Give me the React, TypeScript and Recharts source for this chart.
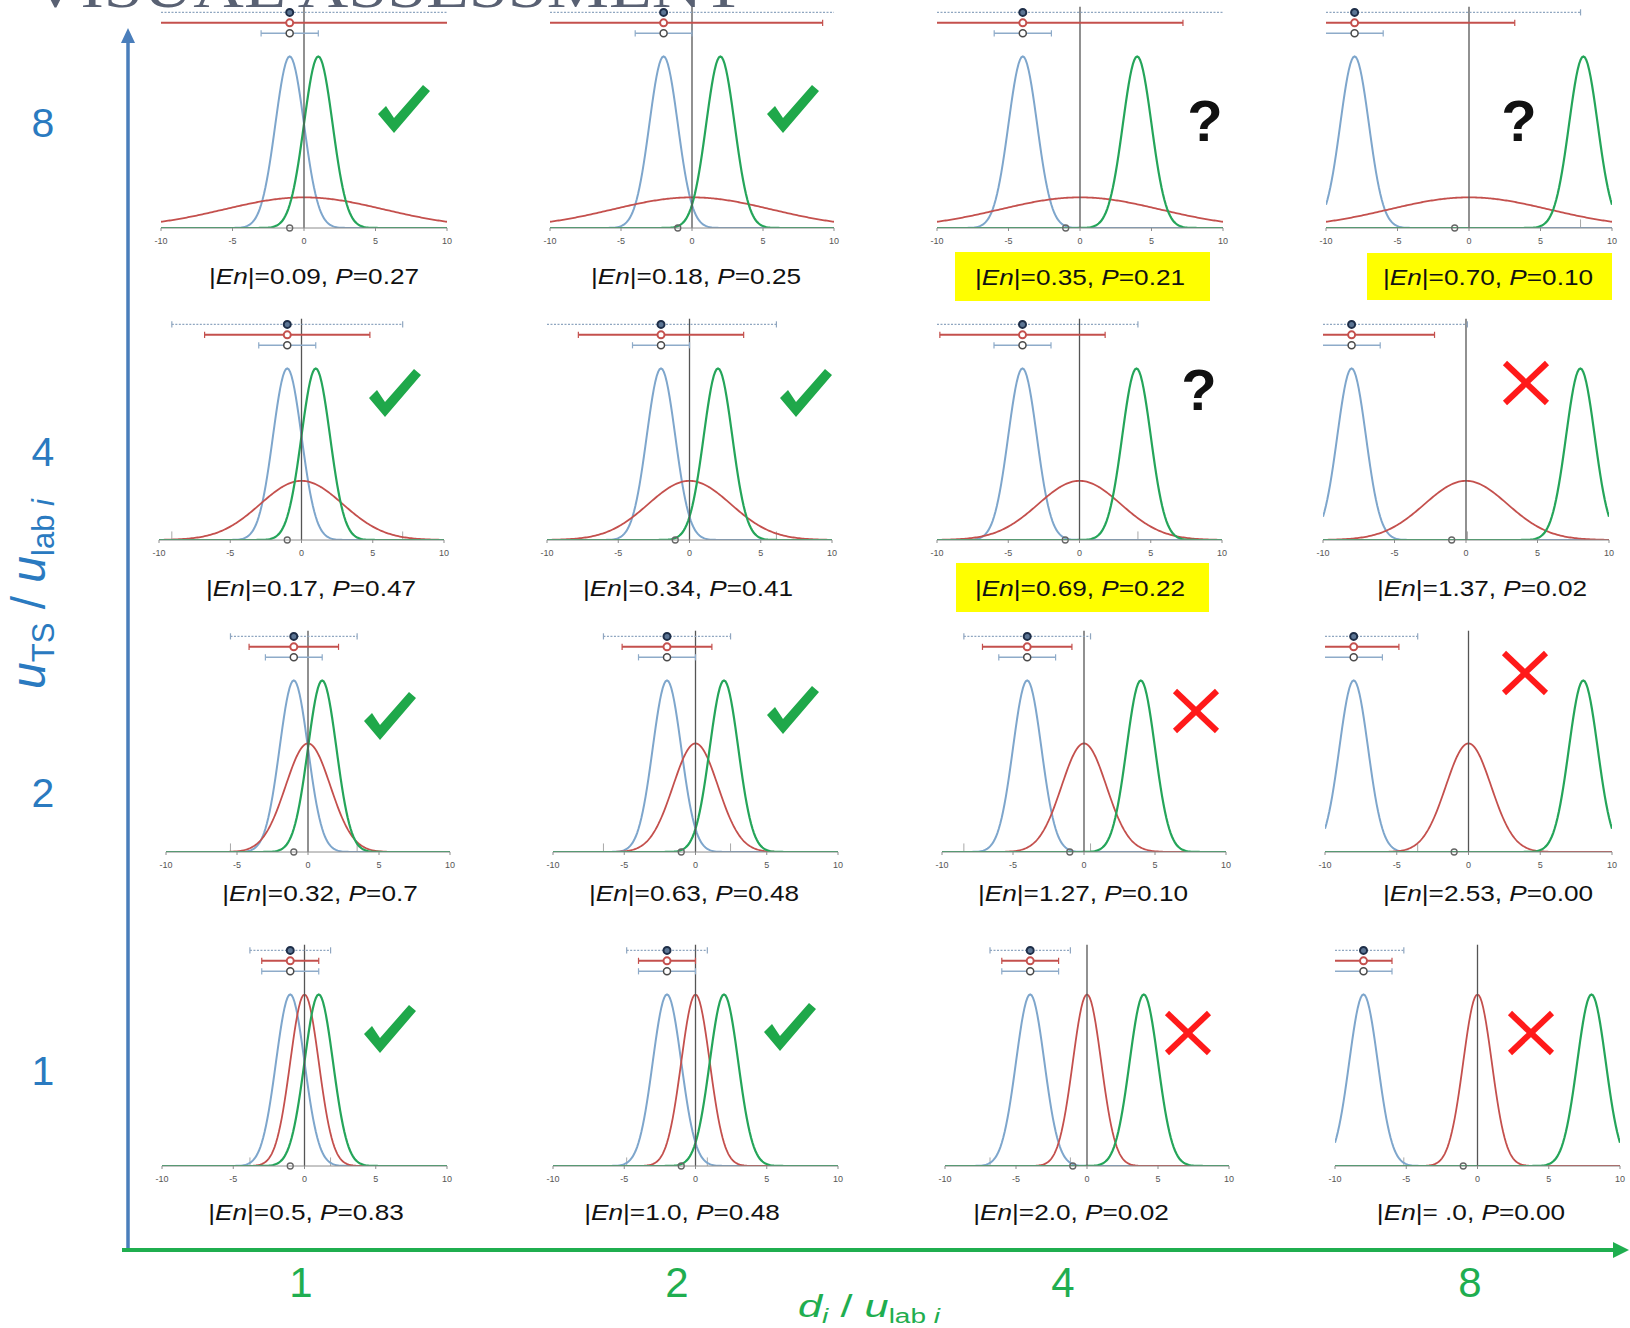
import React from 'react';
import { LineChart, Line, XAxis, YAxis, ReferenceLine, ReferenceDot } from 'recharts';

// ---- data ----
// d_i / u_lab i for each column: lab curve centred at -d, comparison curve at +d
const COL_RATIOS = [1, 2, 4, 8];
// u_TS / u_lab i for each row
const ROW_RATIOS = [8, 4, 2, 1];
const LAB_SIGMA = 1.0;
// spread of the red reference-value curve, per row
const RED_SIGMA = [5.6, 2.9, 1.58, 1.0];
// half-widths of the three interval bars, per row
const TS_BAR_HALF = [15.8, 8.1, 4.46, 2.83];
const RED_BAR_HALF = [11.2, 5.8, 3.15, 2.0];
const LAB_BAR_HALF = 2.0;
const BASE_MARK_X = -1;
const X_TICKS = [-10, -5, 0, 5, 10];

const EN_VALUES = [
  ['0.09', '0.18', '0.35', '0.70'],
  ['0.17', '0.34', '0.69', '1.37'],
  ['0.32', '0.63', '1.27', '2.53'],
  ['0.5', '1.0', '2.0', ' .0'],
];
const P_VALUES = [
  ['0.27', '0.25', '0.21', '0.10'],
  ['0.47', '0.41', '0.22', '0.02'],
  ['0.7', '0.48', '0.10', '0.00'],
  ['0.83', '0.48', '0.02', '0.00'],
];
const VERDICTS = [
  ['ok', 'ok', '?', '?'],
  ['ok', 'ok', '?', 'x'],
  ['ok', 'ok', 'x', 'x'],
  ['ok', 'ok', 'x', 'x'],
];
const HIGHLIGHT = [
  [false, false, true, true],
  [false, false, true, false],
  [false, false, false, false],
  [false, false, false, false],
];

// ---- layout ----
const AXIS_SPAN = [
  [[161, 447], [550, 834], [937, 1223], [1326, 1612]],
  [[159, 444], [547, 832], [937, 1222], [1323, 1609]],
  [[166, 450], [553, 838], [942, 1226], [1325, 1612]],
  [[162, 447], [553, 838], [945, 1229], [1335, 1620]],
];
const BASELINES = [228, 540, 852, 1166];
const LABEL_POS = [
  [[314, 276], [696, 276], [1080, 277], [1488, 277]],
  [[311, 588], [688, 588], [1080, 588], [1482, 588]],
  [[320, 893], [694, 893], [1083, 893], [1488, 893]],
  [[306, 1212], [682, 1212], [1071, 1212], [1471, 1212]],
];
const MARK_POS = [
  [[378, 85], [767, 85], [1188, 99], [1502, 99]],
  [[369, 369], [780, 369], [1182, 368], [1505, 363]],
  [[364, 692], [767, 686], [1175, 691], [1504, 653]],
  [[364, 1005], [764, 1003], [1167, 1013], [1510, 1013]],
];
const BOX_SIZE: Record<string, number[]> = {
  '0-2': [955, 252, 255, 49],
  '0-3': [1367, 253, 245, 47],
  '1-2': [956, 563, 253, 49],
};

const PLOT_H = 223;
const Y_MAX = 1.3;
const Y_TS = 1.257;
const Y_RED = 1.196;
const Y_LAB = 1.135;
const ZERO_TOP = 1.29;

const BLUE = '#7ea6cc';
const GREEN = '#25a55a';
const RED = '#c4504d';

const SAMPLE_X = Array.from({ length: 201 }, (_, i) => Math.round((-10 + i * 0.1) * 10) / 10);

const density = (x: number, mu: number, s: number) =>
  Math.exp(-((x - mu) * (x - mu)) / (2 * s * s)) / s;

const clamp = (v: number) => Math.max(-10, Math.min(10, v));
const inside = (v: number) => v > -10 && v < 10;

function IntervalBar({ c, y, half, stroke, width, dash }: any) {
  const a = -c - half;
  const b = -c + half;
  const capH = 0.018;
  const items = [
    <ReferenceLine
      key="bar"
      segment={[{ x: clamp(a), y }, { x: clamp(b), y }]}
      stroke={stroke}
      strokeWidth={width}
      strokeDasharray={dash}
      ifOverflow="visible"
    />,
  ];
  [a, b].forEach((e, i) => {
    if (inside(e)) {
      items.push(
        <ReferenceLine
          key={'cap' + i}
          segment={[{ x: e, y: y - capH }, { x: e, y: y + capH }]}
          stroke={stroke}
          strokeWidth={1.2}
          ifOverflow="visible"
        />
      );
    }
  });
  return items;
}

function Panel({ row, col }: { row: number; col: number }) {
  const [L, R] = AXIS_SPAN[row][col];
  const base = BASELINES[row];
  const c = COL_RATIOS[col];
  const rs = RED_SIGMA[row];
  const ML = 12;
  const MR = 12;
  const MT = 5;
  const XH = 30;
  const data = SAMPLE_X.map((x) => ({
    x,
    blue: density(x, -c, LAB_SIGMA),
    red: density(x, 0, rs),
    green: density(x, c, LAB_SIGMA),
  }));
  const tsEnds = [-c - TS_BAR_HALF[row], -c + TS_BAR_HALF[row]].filter(inside);

  return (
    <div style={{ position: 'absolute', left: L - ML, top: base - PLOT_H - MT }}>
      <LineChart
        width={R - L + ML + MR}
        height={MT + PLOT_H + XH}
        data={data}
        margin={{ top: MT, right: MR, left: ML, bottom: 0 }}
      >
        <XAxis
          dataKey="x"
          type="number"
          domain={[-10, 10]}
          ticks={X_TICKS}
          interval={0}
          allowDataOverflow
          height={XH}
          stroke="#8c8c8c"
          tickSize={3}
          tickMargin={7}
          tick={{ fontSize: 9, fill: '#555', fontFamily: 'Liberation Sans, Arial, sans-serif' }}
        />
        <YAxis hide type="number" domain={[0, Y_MAX]} allowDataOverflow width={0} />
        {tsEnds.map((e, i) => (
          <ReferenceLine
            key={'tsmark' + i}
            segment={[{ x: e, y: 0 }, { x: e, y: 0.05 }]}
            stroke="#a8a8a8"
            strokeWidth={1}
          />
        ))}
        <Line dataKey="blue" type="linear" stroke={BLUE} strokeWidth={2} dot={false} isAnimationActive={false} />
        <Line dataKey="red" type="linear" stroke={RED} strokeWidth={1.8} dot={false} isAnimationActive={false} />
        <Line dataKey="green" type="linear" stroke={GREEN} strokeWidth={2.2} dot={false} isAnimationActive={false} />
        <ReferenceLine
          segment={[{ x: 0, y: 0 }, { x: 0, y: ZERO_TOP }]}
          stroke="#555"
          strokeWidth={1.3}
        />
        {IntervalBar({ c, y: Y_TS, half: TS_BAR_HALF[row], stroke: '#8fa6c0', width: 1.3, dash: '2 1.5' })}
        {IntervalBar({ c, y: Y_RED, half: RED_BAR_HALF[row], stroke: RED, width: 2 })}
        {IntervalBar({ c, y: Y_LAB, half: LAB_BAR_HALF, stroke: '#8eabc9', width: 1.5 })}
        <ReferenceDot x={-c} y={Y_TS} r={3.5} fill="#5c7594" stroke="#1e2e48" strokeWidth={2} />
        <ReferenceDot x={-c} y={Y_RED} r={3.5} fill="#fff" stroke={RED} strokeWidth={2} />
        <ReferenceDot x={-c} y={Y_LAB} r={3.5} fill="#fff" stroke="#4a4a4a" strokeWidth={1.5} />
        <ReferenceDot x={BASE_MARK_X} y={0} r={3} fill="none" stroke="#666" strokeWidth={1.3} />
      </LineChart>
    </div>
  );
}

function Verdict({ kind, x, y }: { kind: string; x: number; y: number }) {
  if (kind === 'ok') {
    return (
      <polygon
        transform={`translate(${x},${y})`}
        points="0,29 8,21 16,33 45,0 52,6 16,48"
        fill="#1fa84a"
      />
    );
  }
  if (kind === '?') {
    return (
      <text
        x={x + 17}
        y={y + 42}
        textAnchor="middle"
        fontFamily="Liberation Sans, Arial, sans-serif"
        fontWeight="bold"
        fontSize={58}
        fill="#111"
      >
        ?
      </text>
    );
  }
  return (
    <g stroke="#ff1a1a" strokeWidth={6}>
      <line x1={x} y1={y} x2={x + 42} y2={y + 40} />
      <line x1={x + 42} y1={y} x2={x} y2={y + 40} />
    </g>
  );
}

const SANS = 'Liberation Sans, Arial, sans-serif';

export default function App() {
  const cells: [number, number][] = [];
  ROW_RATIOS.forEach((_, r) => COL_RATIOS.forEach((__, c) => cells.push([r, c])));

  return (
    <div
      style={{
        position: 'absolute',
        left: 0,
        top: 0,
        width: 1630,
        height: 1328,
        background: '#fff',
        overflow: 'hidden',
      }}
    >
      <svg width={1630} height={1328} style={{ position: 'absolute', left: 0, top: 0 }}>
        {/* title */}
        <text
          x={30}
          y={7}
          fontFamily="Liberation Serif, Times New Roman, serif"
          fontSize={56}
          fill="#596173"
          textLength={715}
          lengthAdjust="spacingAndGlyphs"
        >
          VISUAL ASSESSMENT
        </text>

        {/* yellow highlight boxes */}
        {cells
          .filter(([r, c]) => HIGHLIGHT[r][c])
          .map(([r, c]) => {
            const [x, y, w, h] = BOX_SIZE[`${r}-${c}`];
            return <rect key={`box${r}-${c}`} x={x} y={y} width={w} height={h} fill="#ffff00" />;
          })}

        {/* vertical axis arrow */}
        <line x1={128} y1={1252} x2={128} y2={40} stroke="#4a7ebb" strokeWidth={3.5} />
        <polygon points="121,43 135,43 128,28" fill="#4a7ebb" />
        {/* horizontal axis arrow */}
        <line x1={122} y1={1250} x2={1616} y2={1250} stroke="#1fae4f" strokeWidth={4} />
        <polygon points="1613,1242 1613,1258 1629,1250" fill="#1fae4f" />

        {/* row values */}
        {ROW_RATIOS.map((v, i) => (
          <text
            key={'r' + i}
            x={43}
            y={[123, 452, 793, 1071][i]}
            textAnchor="middle"
            dominantBaseline="central"
            fontFamily={SANS}
            fontSize={41}
            fill="#2a7ac0"
          >
            {v}
          </text>
        ))}
        {/* column values */}
        {COL_RATIOS.map((v, i) => (
          <text
            key={'c' + i}
            x={[301, 677, 1063, 1470][i]}
            y={1282}
            textAnchor="middle"
            dominantBaseline="central"
            fontFamily={SANS}
            fontSize={42}
            fill="#1fae50"
          >
            {v}
          </text>
        ))}

        {/* y axis title */}
        <text
          transform="translate(45,594) rotate(-90)"
          textAnchor="middle"
          fontFamily={SANS}
          fontSize={48}
          fill="#2a7ac0"
        >
          <tspan fontStyle="italic">u</tspan>
          <tspan fontSize={31} dy={9}>TS</tspan>
          <tspan dy={-9}> / </tspan>
          <tspan fontStyle="italic">u</tspan>
          <tspan fontSize={31} dy={9}>lab </tspan>
          <tspan fontSize={31} fontStyle="italic">i</tspan>
        </text>

        {/* x axis title */}
        <text
          transform="translate(869,1317) scale(1.4,1)"
          textAnchor="middle"
          fontFamily={SANS}
          fontSize={31}
          fill="#1fae50"
        >
          <tspan fontStyle="italic">d</tspan>
          <tspan fontSize={20} fontStyle="italic" dy={6}>i</tspan>
          <tspan dy={-6}> / </tspan>
          <tspan fontStyle="italic">u</tspan>
          <tspan fontSize={20} dy={6}>lab </tspan>
          <tspan fontSize={20} fontStyle="italic">i</tspan>
        </text>

        {/* per-panel captions and verdicts */}
        {cells.map(([r, c]) => {
          const [cx, cy] = LABEL_POS[r][c];
          const [mx, my] = MARK_POS[r][c];
          return (
            <g key={`lab${r}-${c}`}>
              <text
                transform={`translate(${cx},${cy}) scale(1.19,1)`}
                textAnchor="middle"
                dominantBaseline="central"
                fontFamily={SANS}
                fontSize={22}
                fill="#111"
                style={{ whiteSpace: 'pre' }}
              >
                |<tspan fontStyle="italic">En</tspan>|={EN_VALUES[r][c]}, <tspan fontStyle="italic">P</tspan>={P_VALUES[r][c]}
              </text>
              <Verdict kind={VERDICTS[r][c]} x={mx} y={my} />
            </g>
          );
        })}
      </svg>

      {cells.map(([r, c]) => (
        <Panel key={`p${r}-${c}`} row={r} col={c} />
      ))}
    </div>
  );
}
